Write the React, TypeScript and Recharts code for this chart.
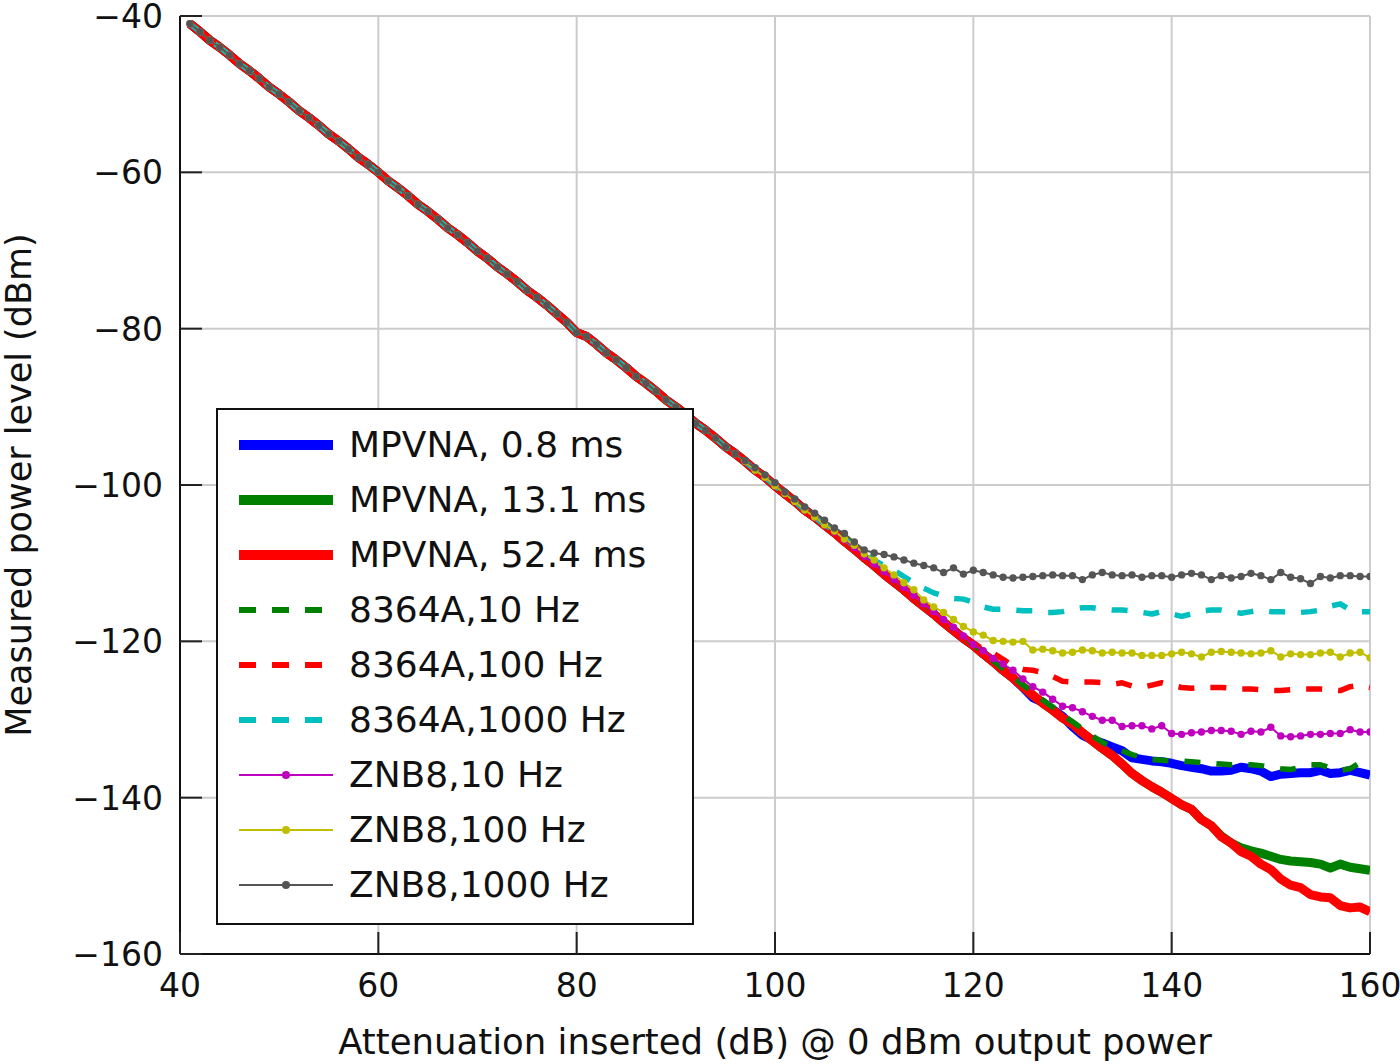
import React from 'react';
import { LineChart, Line, XAxis, YAxis, CartesianGrid, Legend } from 'recharts';

// attenuation sweep, 1 dB steps
const atten = [
  41, 42, 43, 44, 45, 46, 47, 48, 49, 50,
  51, 52, 53, 54, 55, 56, 57, 58, 59, 60,
  61, 62, 63, 64, 65, 66, 67, 68, 69, 70,
  71, 72, 73, 74, 75, 76, 77, 78, 79, 80,
  81, 82, 83, 84, 85, 86, 87, 88, 89, 90,
  91, 92, 93, 94, 95, 96, 97, 98, 99, 100,
  101, 102, 103, 104, 105, 106, 107, 108, 109, 110,
  111, 112, 113, 114, 115, 116, 117, 118, 119, 120,
  121, 122, 123, 124, 125, 126, 127, 128, 129, 130,
  131, 132, 133, 134, 135, 136, 137, 138, 139, 140,
  141, 142, 143, 144, 145, 146, 147, 148, 149, 150,
  151, 152, 153, 154, 155, 156, 157, 158, 159, 160,
];

// 41..105 dB: all instruments sit on the same straight line
const slope = [
  -41.0, -42.0, -43.1, -44.0, -45.0, -46.1, -47.0, -48.0, -49.1, -50.0,
  -51.0, -52.1, -53.0, -54.0, -55.1, -56.0, -57.0, -58.1, -59.0, -60.0,
  -61.1, -62.0, -63.0, -64.1, -65.0, -66.0, -67.1, -68.0, -69.0, -70.1,
  -71.0, -72.1, -73.0, -74.0, -75.1, -76.0, -77.0, -78.1, -79.2, -80.5,
  -81.0, -82.0, -83.1, -84.0, -85.0, -86.1, -87.0, -88.0, -89.1, -90.0,
  -91.0, -92.1, -93.0, -94.0, -95.1, -96.0, -97.0, -98.1, -99.0, -100.1,
  -101.1, -102.1, -103.2, -104.1, -105.1,
];

// 106..160 dB
const mpvna08Tail = [
  -106.1, -107.2, -108.2, -109.3, -110.3, -111.4, -112.4, -113.4, -114.5, -115.5,
  -116.5, -117.6, -118.6, -119.6, -120.5, -121.6, -122.6, -123.7, -124.7, -125.9,
  -127.2, -127.8, -128.7, -129.6, -130.9, -132.0, -132.6, -133.0, -133.5, -134.0,
  -134.9, -135.1, -135.3, -135.4, -135.6, -135.9, -136.1, -136.3, -136.6, -136.6,
  -136.5, -136.1, -136.3, -136.6, -137.3, -137.0, -136.9, -136.8, -136.8, -136.5,
  -136.9, -136.8, -136.5, -136.8, -137.1,
];
const mpvna131Tail = [
  -106.1, -107.2, -108.2, -109.3, -110.3, -111.4, -112.4, -113.4, -114.5, -115.5,
  -116.5, -117.6, -118.6, -119.6, -120.5, -121.6, -122.6, -123.7, -124.7, -125.8,
  -126.9, -127.9, -128.8, -129.8, -130.6, -131.7, -132.7, -133.7, -134.6, -135.7,
  -136.9, -137.8, -138.6, -139.3, -140.1, -140.9, -141.5, -142.8, -143.6, -144.9,
  -145.8, -146.4, -146.8, -147.1, -147.5, -147.9, -148.1, -148.2, -148.3, -148.5,
  -149.0, -148.5, -148.9, -149.1, -149.3,
];
const mpvna524Tail = [
  -106.1, -107.2, -108.2, -109.3, -110.3, -111.4, -112.4, -113.4, -114.5, -115.5,
  -116.5, -117.6, -118.6, -119.6, -120.5, -121.6, -122.6, -123.7, -124.7, -125.8,
  -126.9, -127.9, -128.8, -129.8, -130.6, -131.7, -132.7, -133.7, -134.6, -135.7,
  -136.9, -137.8, -138.6, -139.3, -140.1, -140.9, -141.5, -142.8, -143.6, -145.0,
  -145.8, -146.9, -147.5, -148.5, -149.2, -150.4, -151.2, -151.5, -152.4, -152.7,
  -152.8, -153.8, -154.1, -154.0, -154.6,
];
const a10HzTail = [
  -106.0, -107.0, -108.1, -109.1, -110.1, -111.1, -112.2, -113.2, -114.2, -115.3,
  -116.3, -117.3, -118.4, -119.4, -120.4, -121.4, -122.5, -123.5, -124.5, -125.6,
  -126.5, -127.5, -128.4, -129.4, -130.3, -131.2, -132.1, -132.9, -133.5, -134.0,
  -134.5, -134.8, -135.1, -135.2, -135.3, -135.3, -135.4, -135.5, -135.6, -135.7,
  -135.8, -135.7, -135.8, -135.9, -136.1, -136.3, -136.4, -136.1, -135.8, -135.8,
  -136.2, -136.5, -136.3, -135.5, -135.4,
];
const a100HzTail = [
  -106.0, -107.0, -108.1, -109.1, -110.1, -111.1, -112.1, -113.2, -114.2, -115.2,
  -116.2, -117.3, -118.3, -119.3, -120.2, -121.0, -121.5, -122.3, -123.2, -123.6,
  -123.7, -124.0, -124.5, -125.1, -125.2, -125.2, -125.2, -125.3, -125.5, -125.3,
  -125.7, -125.9, -125.6, -125.3, -125.6, -125.9, -126.0, -125.9, -125.9, -125.9,
  -126.0, -126.1, -126.1, -126.2, -126.3, -126.3, -126.2, -126.1, -126.1, -126.1,
  -126.2, -126.3, -125.8, -125.6, -125.9,
];
const a1000HzTail = [
  -105.8, -106.8, -107.8, -108.7, -109.6, -110.3, -110.9, -111.7, -112.5, -113.2,
  -113.8, -114.2, -114.5, -114.6, -115.0, -115.6, -115.9, -115.9, -116.0, -116.1,
  -116.1, -116.3, -116.3, -116.2, -115.9, -115.7, -115.7, -115.9, -116.0, -116.0,
  -116.1, -116.3, -116.5, -116.2, -116.5, -116.8, -116.5, -116.1, -116.0, -116.0,
  -116.2, -116.4, -116.2, -116.0, -116.2, -116.2, -116.3, -116.3, -116.2, -116.0,
  -115.5, -115.2, -116.0, -116.2, -116.2,
];
const znb10Tail = [
  -106.0, -107.0, -108.0, -109.1, -110.1, -111.1, -112.1, -113.1, -114.1, -115.2,
  -116.2, -117.2, -118.2, -119.3, -120.4, -121.2, -122.2, -122.9, -123.7, -124.8,
  -125.8, -126.5, -127.4, -128.3, -128.5, -129.0, -129.6, -130.1, -130.1, -130.9,
  -130.8, -130.8, -131.2, -130.8, -131.8, -131.9, -131.7, -131.6, -131.4, -131.4,
  -131.5, -131.9, -131.5, -131.6, -131.0, -132.1, -132.2, -132.1, -131.9, -131.9,
  -131.8, -131.8, -131.3, -131.6, -131.6,
];
const znb100Tail = [
  -105.9, -106.9, -107.7, -108.8, -109.6, -110.6, -111.5, -112.5, -113.4, -114.7,
  -115.6, -116.3, -117.2, -118.1, -118.8, -119.2, -119.9, -120.0, -120.1, -120.0,
  -121.1, -121.0, -121.2, -121.5, -121.4, -121.1, -121.2, -121.5, -121.4, -121.5,
  -121.5, -121.8, -121.8, -121.8, -121.6, -121.4, -121.6, -122.0, -121.4, -121.3,
  -121.4, -121.5, -121.6, -121.5, -121.2, -122.0, -121.6, -121.7, -121.7, -121.5,
  -121.4, -122.0, -121.5, -121.4, -122.1,
];
// 97..160 dB, this one leaves the line earlier
const znb1000Tail = [
  -96.9, -97.8, -98.7, -99.7,
  -100.9, -101.8, -102.8, -103.6, -104.5, -105.5, -106.2, -107.3, -108.3, -108.7,
  -108.9, -109.2, -109.6, -110.0, -110.3, -110.6, -111.2, -110.6, -111.4, -110.9,
  -111.2, -111.5, -111.8, -111.9, -111.8, -111.7, -111.6, -111.5, -111.6, -111.6,
  -112.1, -111.5, -111.2, -111.5, -111.6, -111.5, -111.8, -111.6, -111.6, -111.8,
  -111.5, -111.3, -111.5, -112.1, -111.6, -111.9, -111.7, -111.3, -111.6, -112.1,
  -111.2, -111.8, -112.0, -112.6, -111.7, -111.9, -111.6, -111.6, -111.7, -111.7,
];

const mpvna08 = [...slope, ...mpvna08Tail];
const mpvna131 = [...slope, ...mpvna131Tail];
const mpvna524 = [...slope, ...mpvna524Tail];
const a10Hz = [...slope, ...a10HzTail];
const a100Hz = [...slope, ...a100HzTail];
const a1000Hz = [...slope, ...a1000HzTail];
const znb10 = [...slope, ...znb10Tail];
const znb100 = [...slope, ...znb100Tail];
const znb1000 = [...slope.slice(0, 56), ...znb1000Tail];

const xTicks = [40, 60, 80, 100, 120, 140, 160];
const yTicks = [-160, -140, -120, -100, -80, -60, -40];

type Kind = 'thick' | 'dash' | 'dot';
const SERIES: { key: string; name: string; color: string; kind: Kind; values: number[] }[] = [
  { key: 'mpvna08', name: 'MPVNA, 0.8 ms', color: '#0000ff', kind: 'thick', values: mpvna08 },
  { key: 'mpvna131', name: 'MPVNA, 13.1 ms', color: '#008000', kind: 'thick', values: mpvna131 },
  { key: 'mpvna524', name: 'MPVNA, 52.4 ms', color: '#ff0000', kind: 'thick', values: mpvna524 },
  { key: 'a10Hz', name: '8364A,10 Hz', color: '#008000', kind: 'dash', values: a10Hz },
  { key: 'a100Hz', name: '8364A,100 Hz', color: '#ff0000', kind: 'dash', values: a100Hz },
  { key: 'a1000Hz', name: '8364A,1000 Hz', color: '#00bfbf', kind: 'dash', values: a1000Hz },
  { key: 'znb10', name: 'ZNB8,10 Hz', color: '#bf00bf', kind: 'dot', values: znb10 },
  { key: 'znb100', name: 'ZNB8,100 Hz', color: '#bfbf00', kind: 'dot', values: znb100 },
  { key: 'znb1000', name: 'ZNB8,1000 Hz', color: '#555555', kind: 'dot', values: znb1000 },
];

const rows = atten.map((a, i) => {
  const row: Record<string, number> = { att: a };
  SERIES.forEach((s) => { row[s.key] = s.values[i]; });
  return row;
});

const FONT = '"DejaVu Sans", sans-serif';
const fmt = (v: number) => (v < 0 ? '\u2212' + Math.abs(v) : String(v));
const TICK_LEN = 22;

const BottomTick = (props: any) => {
  const { x, y, payload } = props;
  return (
    <g>
      <line x1={x} y1={y} x2={x} y2={y - TICK_LEN} stroke="#222" strokeWidth={2} />
      <text x={x} y={y + 43} textAnchor="middle" fontSize={33} fontFamily={FONT} fill="#111">
        {fmt(payload.value)}
      </text>
    </g>
  );
};
const TopTick = (props: any) => (
  <line x1={props.x} y1={props.y} x2={props.x} y2={props.y + TICK_LEN} stroke="#222" strokeWidth={2} />
);
const LeftTick = (props: any) => {
  const { x, y, payload } = props;
  return (
    <g>
      <line x1={x} y1={y} x2={x + TICK_LEN} y2={y} stroke="#222" strokeWidth={2} />
      <text x={x - 17} y={y + 12} textAnchor="end" fontSize={33} fontFamily={FONT} fill="#111">
        {fmt(payload.value)}
      </text>
    </g>
  );
};
const RightTick = (props: any) => (
  <line x1={props.x} y1={props.y} x2={props.x - TICK_LEN} y2={props.y} stroke="#222" strokeWidth={2} />
);

const YLabel = (props: any) => {
  const { viewBox } = props;
  const cy = viewBox.y + viewBox.height / 2;
  return (
    <text
      x={31}
      y={cy}
      transform={`rotate(-90 31 ${cy})`}
      textAnchor="middle"
      fontSize={35}
      fontFamily={FONT}
      fill="#111"
    >
      Measured power level (dBm)
    </text>
  );
};

const XLabel = (props: any) => {
  const { viewBox } = props;
  return (
    <text
      x={viewBox.x + viewBox.width / 2}
      y={viewBox.y + 100}
      textAnchor="middle"
      fontSize={35.5}
      fontFamily={FONT}
      fill="#111"
    >
      Attenuation inserted (dB) @ 0 dBm output power
    </text>
  );
};

const LegendBox = () => (
  <div
    style={{
      width: 478,
      height: 517,
      boxSizing: 'border-box',
      border: '2px solid #111',
      background: '#fff',
      paddingTop: 7,
    }}
  >
    {SERIES.map((s) => (
      <div key={s.key} style={{ height: 55, display: 'flex', alignItems: 'center' }}>
        <svg width={96} height={20} style={{ marginLeft: 20, flexShrink: 0 }}>
          {s.kind === 'thick' && <line x1={1} y1={10} x2={95} y2={10} stroke={s.color} strokeWidth={10} />}
          {s.kind === 'dash' && (
            <line x1={1} y1={10} x2={84} y2={10} stroke={s.color} strokeWidth={6} strokeDasharray="17 16" />
          )}
          {s.kind === 'dot' && (
            <g>
              <line x1={1} y1={10} x2={95} y2={10} stroke={s.color} strokeWidth={2} />
              <circle cx={48} cy={10} r={4} fill={s.color} />
            </g>
          )}
        </svg>
        <span
          style={{
            marginLeft: 15,
            fontFamily: FONT,
            fontSize: 36,
            color: '#111',
            whiteSpace: 'nowrap',
          }}
        >
          {s.name}
        </span>
      </div>
    ))}
  </div>
);

export default function App() {
  return (
    <div style={{ position: 'absolute', left: 0, top: 0, width: 1400, height: 1064, background: '#fff' }}>
      <LineChart width={1400} height={1064} data={rows} margin={{ top: 16, right: 30, bottom: 0, left: 0 }}>
        <CartesianGrid stroke="#cccccc" strokeWidth={2} />
        <XAxis
          dataKey="att"
          type="number"
          domain={[40, 160]}
          ticks={xTicks}
          interval={0}
          allowDataOverflow
          height={110}
          tickSize={0}
          tickMargin={0}
          tickLine={false}
          axisLine={{ stroke: '#111', strokeWidth: 2 }}
          tick={BottomTick}
          label={{ content: XLabel }}
        />
        <XAxis
          xAxisId="top"
          orientation="top"
          type="number"
          domain={[40, 160]}
          ticks={xTicks}
          interval={0}
          height={0}
          tickSize={0}
          tickMargin={0}
          tickLine={false}
          axisLine={{ stroke: '#111', strokeWidth: 2 }}
          tick={TopTick}
        />
        <YAxis
          type="number"
          domain={[-160, -40]}
          ticks={yTicks}
          interval={0}
          allowDataOverflow
          width={180}
          tickSize={0}
          tickMargin={0}
          tickLine={false}
          axisLine={{ stroke: '#111', strokeWidth: 2 }}
          tick={LeftTick}
          label={{ content: YLabel }}
        />
        <YAxis
          yAxisId="right"
          orientation="right"
          type="number"
          domain={[-160, -40]}
          ticks={yTicks}
          interval={0}
          width={0}
          tickSize={0}
          tickMargin={0}
          tickLine={false}
          axisLine={{ stroke: '#111', strokeWidth: 2 }}
          tick={RightTick}
        />
        {SERIES.map((s) => (
          <Line
            key={s.key}
            dataKey={s.key}
            name={s.name}
            type="linear"
            stroke={s.color}
            strokeWidth={s.kind === 'thick' ? 9 : s.kind === 'dash' ? 5.5 : 2}
            strokeDasharray={s.kind === 'dash' ? '16 16' : undefined}
            strokeLinejoin="round"
            dot={s.kind === 'dot' ? { r: 3.7, fill: s.color, stroke: 'none' } : false}
            activeDot={false}
            isAnimationActive={false}
          />
        ))}
        <Legend
          layout="horizontal"
          verticalAlign="middle"
          align="center"
          content={() => <LegendBox />}
          wrapperStyle={{ left: 216, top: 408, width: 478, height: 517 }}
        />
      </LineChart>
    </div>
  );
}
